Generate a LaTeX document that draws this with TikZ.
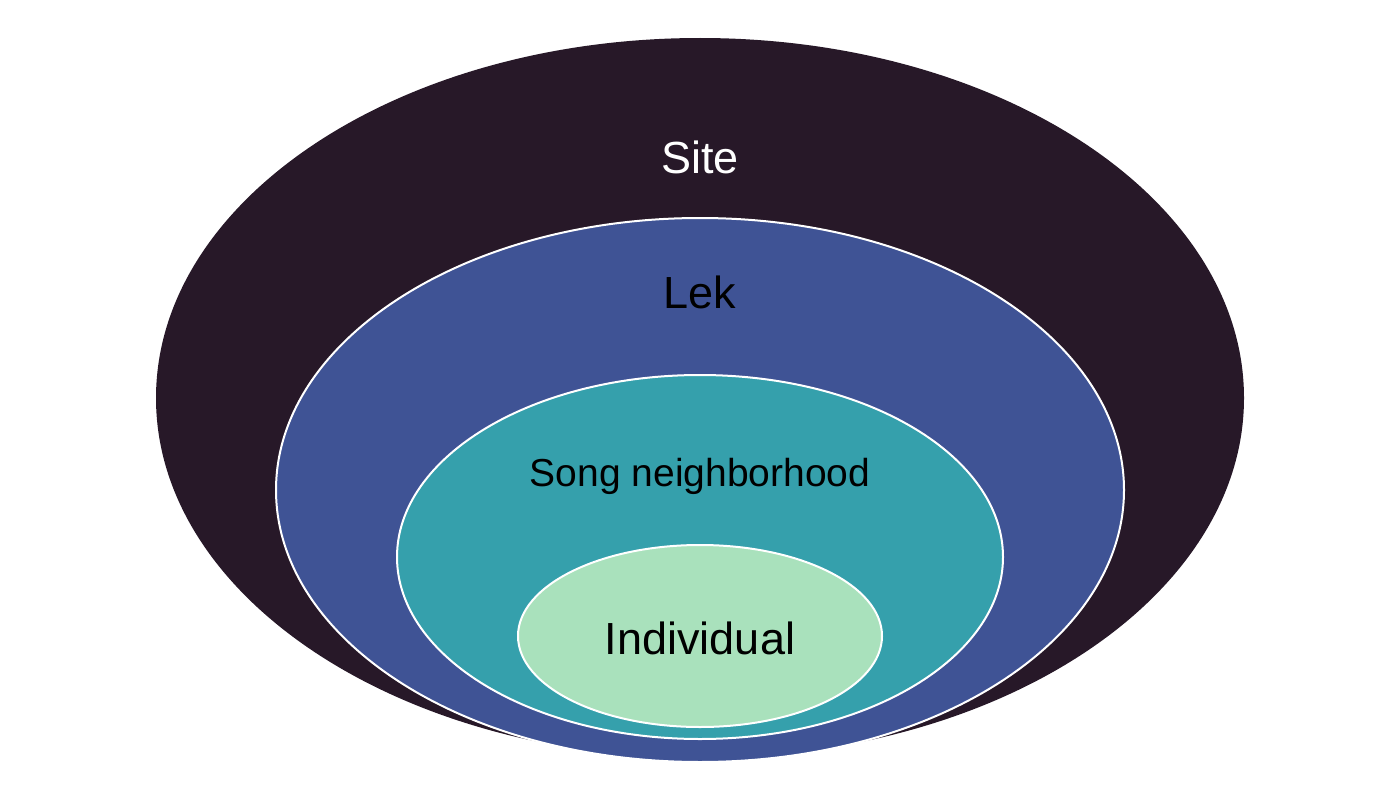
\documentclass[tikz,border=0pt]{standalone}
\usepackage{fontspec}
\setmainfont{Liberation Sans}
\usetikzlibrary{shapes.geometric}
\definecolor{sitecol}{HTML}{271828}
\definecolor{lekcol}{HTML}{3F5395}
\definecolor{songcol}{HTML}{35A0AC}
\definecolor{indcol}{HTML}{A9E1BC}
\begin{document}
\begin{tikzpicture}[x=1pt,y=-1pt,
  level/.style={ellipse, inner sep=0pt, outer sep=0pt, draw=white, line width=2pt},
  lbl/.style={font=\fontsize{45}{50}\selectfont, inner sep=0pt}]
  \useasboundingbox (0,0) rectangle (1400,800);
  % nested scales, outermost first
  \node[level, draw=none, fill=sitecol, minimum width=1088pt, minimum height=720pt] (site) at (700,398) {};
  \node[level, fill=lekcol, minimum width=848pt, minimum height=544pt] (lek) at (700,490) {};
  \node[level, fill=songcol, minimum width=606pt, minimum height=364pt] (song) at (700,557) {};
  \node[level, fill=indcol, minimum width=364pt, minimum height=182pt] (ind) at (700,636) {};
  % labels
  \node[lbl, text=white] (sitelbl) at (700,157) {Site};
  \node[lbl] (leklbl) at (700,292) {Lek};
  \node[lbl, font=\fontsize{39}{44}\selectfont] (songlbl) at (700,476) {Song neighborhood};
  \node[lbl] (indlbl) at (700,638) {Individual};
\end{tikzpicture}
\end{document}
